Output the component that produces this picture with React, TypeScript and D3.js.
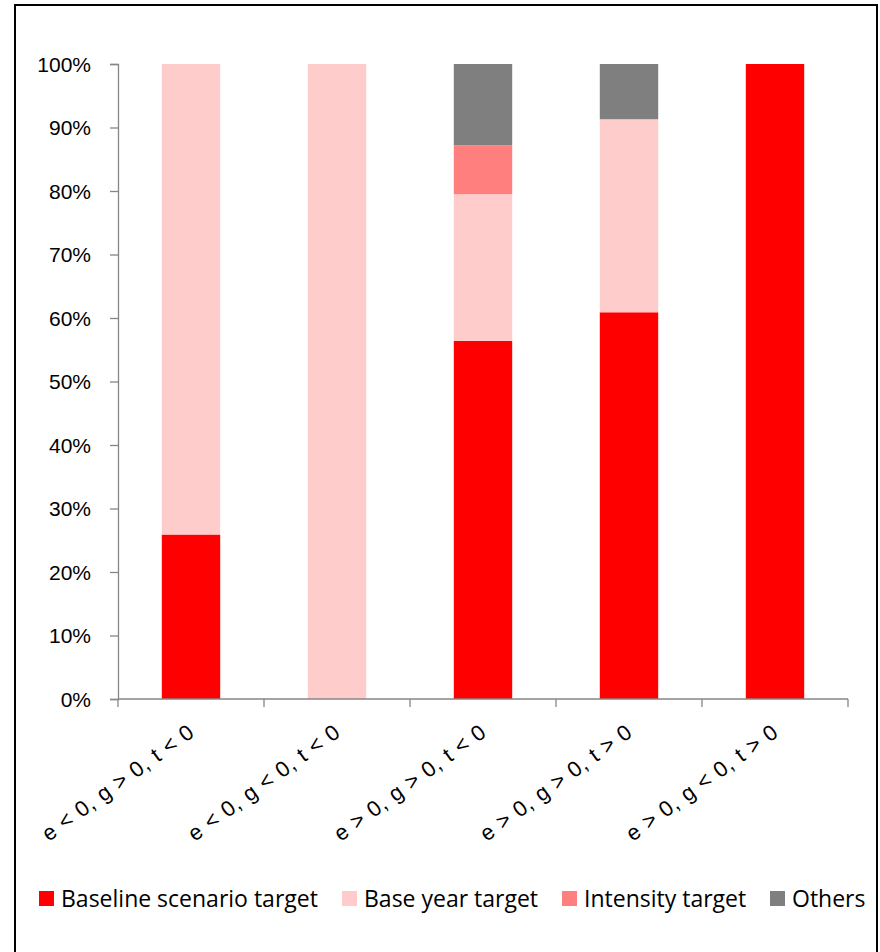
import * as d3 from "d3";
import React, { useRef, useEffect } from "react";

const categories = [
  "e < 0, g > 0, t < 0",
  "e < 0, g < 0, t < 0",
  "e > 0, g > 0, t < 0",
  "e > 0, g > 0, t > 0",
  "e > 0, g < 0, t > 0",
];
const seriesNames = ["Baseline scenario target", "Base year target", "Intensity target", "Others"];
const baseline = [25.9, 0, 56.4, 60.9, 100];
const baseYear = [74.1, 100, 23.1, 30.4, 0];
const intensity = [0, 0, 7.7, 0, 0];
const others = [0, 0, 12.8, 8.7, 0];
const yTicks = [0, 10, 20, 30, 40, 50, 60, 70, 80, 90, 100];

const colors = ["#FF0000", "#FFCCCC", "#FF7F7F", "#7F7F7F"];
const legendX = [39, 342, 562, 770];

const App = () => {
  const gRef = useRef<SVGGElement>(null);
  const margin = { top: 64, left: 118 };
  const plotW = 730;
  const plotH = 635;

  useEffect(() => {
    const g = d3.select(gRef.current);
    g.selectAll("*").remove();

    const rows = categories.map((c, i) => ({
      cat: c,
      s0: baseline[i],
      s1: baseYear[i],
      s2: intensity[i],
      s3: others[i],
    }));
    const stack = d3.stack<any>().keys(["s0", "s1", "s2", "s3"])(rows);

    const x = d3.scaleBand().domain(categories).range([0, plotW]).paddingInner(0.6).paddingOuter(0.3);
    const y = d3.scaleLinear().domain([0, 100]).range([plotH, 0]);
    const band = plotW / categories.length;

    // bars
    g.append("g")
      .selectAll("g")
      .data(stack)
      .join("g")
      .attr("fill", (d, i) => colors[i])
      .selectAll("rect")
      .data(d => d.filter(p => p[1] - p[0] > 0))
      .join("rect")
      .attr("x", d => x(d.data.cat)!)
      .attr("width", x.bandwidth())
      .attr("y", d => y(d[1]))
      .attr("height", d => y(d[0]) - y(d[1]));

    const axisColor = "#868686";

    // y axis
    const yAxis = d3.axisLeft(y).tickValues(yTicks).tickSize(8).tickFormat(d => d + "%");
    const ya = g.append("g").call(yAxis);
    ya.select(".domain").attr("stroke", axisColor).attr("stroke-width", 1.3);
    ya.selectAll(".tick line").attr("stroke", axisColor).attr("stroke-width", 1.3);
    ya.selectAll(".tick text")
      .attr("x", -27)
      .attr("dy", "0.35em")
      .attr("fill", "#000")
      .style("font-family", "Arial, 'Liberation Sans', sans-serif")
      .style("font-size", "21px");

    // x axis
    const xa = g.append("g").attr("transform", `translate(0,${plotH})`);
    xa.append("line")
      .attr("x1", 0).attr("x2", plotW)
      .attr("stroke", axisColor).attr("stroke-width", 1.3);
    xa.selectAll(".xt")
      .data(d3.range(categories.length + 1))
      .join("line")
      .attr("x1", i => i * band).attr("x2", i => i * band)
      .attr("y1", 0).attr("y2", 8)
      .attr("stroke", axisColor).attr("stroke-width", 1.3);
    xa.selectAll(".xl")
      .data(categories)
      .join("text")
      .attr("transform", d => `translate(${x(d)! + x.bandwidth() / 2 + 5},${36}) rotate(-36)`)
      .attr("text-anchor", "end")
      .attr("fill", "#000")
      .attr("letter-spacing", 0.8)
      .style("font-family", "Arial, 'Liberation Sans', sans-serif")
      .style("font-size", "22px")
      .text(d => d);
  }, []);

  return (
    <svg width={880} height={952} style={{ position: "absolute", left: 0, top: 0 }}>
      <rect x={0} y={0} width={880} height={952} fill="#fff" />
      <rect x={15} y={5} width={862} height={960} fill="#fff" stroke="#000" strokeWidth={2} />
      <g ref={gRef} transform={`translate(${margin.left},${margin.top})`} />
      <g>
        {seriesNames.map((s, i) => (
          <g key={s} transform={`translate(${legendX[i]},891)`}>
            <rect width={15} height={15} fill={colors[i]} />
            <text
              x={22}
              y={15.5}
              fill="#000"
              style={{ fontFamily: "'Open Sans', sans-serif", fontSize: "23px" }}
            >
              {s}
            </text>
          </g>
        ))}
      </g>
    </svg>
  );
};

export default App;
